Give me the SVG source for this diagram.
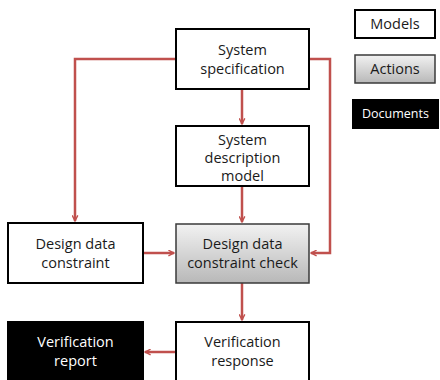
<svg xmlns="http://www.w3.org/2000/svg" width="440" height="380" viewBox="0 0 440 380">
<defs>
<linearGradient id="gray" x1="0" y1="0" x2="0" y2="1">
<stop offset="0" stop-color="#f2f2f2"/>
<stop offset="1" stop-color="#b8b8b8"/>
</linearGradient>
<marker id="ah" viewBox="0 0 10 10" refX="9" refY="5" markerWidth="7" markerHeight="7" orient="auto" markerUnits="userSpaceOnUse">
<path d="M1,1 L9,5 L1,9" fill="none" stroke="#C0504D" stroke-width="2"/>
</marker>
<style>
.box{fill:#fff;stroke:#000;stroke-width:2}
.act{fill:url(#gray);stroke:#3a3a3a;stroke-width:1.5}
.doc{fill:#000;stroke:#000;stroke-width:2}
.t{font-family:"Open Sans","Liberation Sans",sans-serif;font-size:14.5px;fill:#1a1a1a;text-anchor:middle}
.w{fill:#fff}
.c{fill:none;stroke:#C0504D;stroke-width:2.5}
</style>
</defs>
<g id="connectors">
<path class="c" d="M242,89 V124" marker-end="url(#ah)"/>
<path class="c" d="M242,186 V222" marker-end="url(#ah)"/>
<path class="c" d="M176,59 H75 V221" marker-end="url(#ah)"/>
<path class="c" d="M309,59 H330 V253 H311" marker-end="url(#ah)"/>
<path class="c" d="M143,253 H174" marker-end="url(#ah)"/>
<path class="c" d="M242,283 V320" marker-end="url(#ah)"/>
<path class="c" d="M176,352 H145" marker-end="url(#ah)"/>
</g>
<g id="spec"><rect class="box" x="176" y="29" width="133" height="60"/>
<text class="t" x="242.5" y="55">System</text><text class="t" x="242.5" y="74">specification</text></g>
<g id="sdm"><rect class="box" x="176" y="126" width="133" height="60"/>
<text class="t" x="242.5" y="145">System</text><text class="t" x="242.5" y="163">description</text><text class="t" x="242.5" y="181">model</text></g>
<g id="ddc"><rect class="box" x="8" y="223" width="135" height="60"/>
<text class="t" x="75.5" y="249">Design data</text><text class="t" x="75.5" y="268">constraint</text></g>
<g id="check"><rect class="act" x="176" y="224" width="133" height="59"/>
<text class="t" x="242.5" y="249">Design data</text><text class="t" x="242.5" y="268">constraint check</text></g>
<g id="resp"><rect class="box" x="176" y="322" width="133" height="60"/>
<text class="t" x="242.5" y="347">Verification</text><text class="t" x="242.5" y="366">response</text></g>
<g id="report"><rect class="doc" x="8" y="322" width="135" height="60"/>
<text class="t w" x="75.5" y="347">Verification</text><text class="t w" x="75.5" y="366">report</text></g>
<g id="legend-models"><rect class="box" x="355" y="10" width="80" height="28"/>
<text class="t" x="395" y="29">Models</text></g>
<g id="legend-actions"><rect class="act" x="355" y="55" width="80" height="28"/>
<text class="t" x="395" y="74">Actions</text></g>
<g id="legend-docs"><rect class="doc" x="353" y="100" width="85" height="28"/>
<text class="t w" x="395.5" y="118" style="font-size:12.5px">Documents</text></g>
</svg>
